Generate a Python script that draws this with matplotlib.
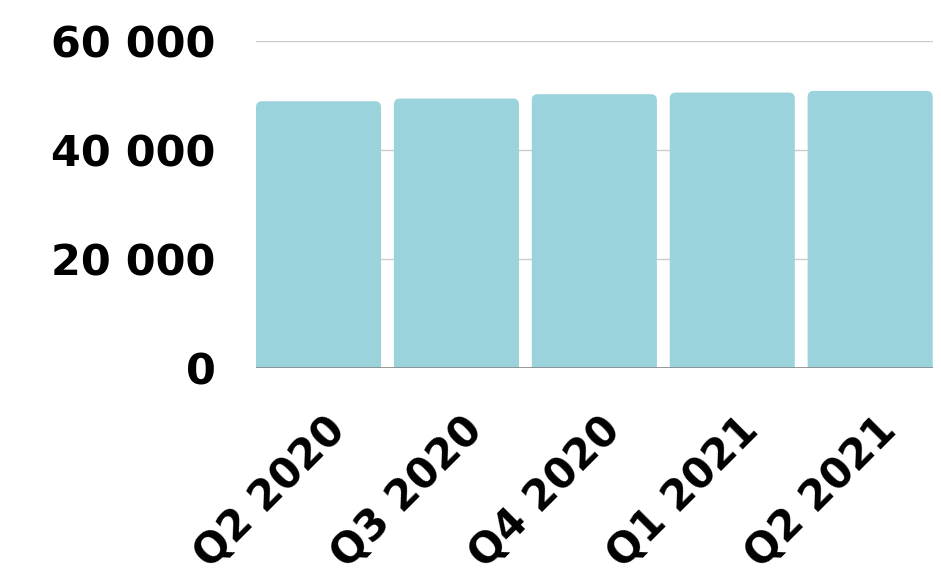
import matplotlib
matplotlib.use("Agg")
import matplotlib.pyplot as plt
from matplotlib.patches import FancyBboxPatch
from matplotlib.ticker import FuncFormatter
import matplotlib.transforms as mtransforms

categories = ["Q2 2020", "Q3 2020", "Q4 2020", "Q1 2021", "Q2 2021"]
values = [49000, 49500, 50300, 50600, 50900]
yticks = [0, 20000, 40000, 60000]

bar_color = "#9bd3dc"
W, H, DPI = 941, 583, 100
fig = plt.figure(figsize=(W / DPI, H / DPI), dpi=DPI)
ax = fig.add_axes([256 / W, 1 - 368.3 / H, (932.7 - 256) / W, (368.3 - 41.3) / H])

bw = 0.907
x = list(range(len(categories)))
bars = ax.bar(x, values, width=bw, color=bar_color, zorder=2)
ax.set_xlim(-bw / 2, len(categories) - 1 + bw / 2)
ax.set_ylim(0, 60000)

# rounded top corners (bottom corners pushed below the axis and clipped)
fig.canvas.draw()
p0 = ax.transData.transform((0, 0))
p1 = ax.transData.transform((1, 1))
px_per_x = p1[0] - p0[0]
px_per_y = p1[1] - p0[1]
r_px = 6.0
rx = r_px / px_per_x
ry = r_px / px_per_y
aspect = px_per_x / px_per_y
for b in bars:
    b.set_visible(False)
    bx, by, bwid, bh = b.get_x(), b.get_y(), b.get_width(), b.get_height()
    fb = FancyBboxPatch((bx, by - 2 * ry), bwid, bh + 2 * ry,
                        boxstyle=f"round,pad=0,rounding_size={rx}",
                        mutation_aspect=aspect, facecolor=bar_color,
                        edgecolor="none", zorder=2)
    ax.add_patch(fb)

ax.set_yticks(yticks)
ax.yaxis.set_major_formatter(FuncFormatter(lambda v, p: f"{int(v):,}".replace(",", " ")))
ax.grid(axis="y", color="#cccccc", linewidth=1, zorder=0)
ax.axhline(0, color="#888888", linewidth=1.2, zorder=3)
for s in ax.spines.values():
    s.set_visible(False)
ax.tick_params(axis="both", length=0)
ax.tick_params(axis="y", pad=29)

font = dict(family="DejaVu Sans", weight="bold", size=31)
for lab in ax.get_yticklabels():
    lab.set(**font)

xfont = dict(family="DejaVu Sans", weight="bold", size=30)
ax.set_xticks(x)
ax.set_xticklabels(categories, rotation=45, ha="right", va="center",
                   rotation_mode="anchor", **xfont)
offset = mtransforms.ScaledTranslation(20 / DPI, -50 / DPI, fig.dpi_scale_trans)
for lab in ax.get_xticklabels():
    lab.set_transform(lab.get_transform() + offset)

fig.savefig("out.png", dpi=DPI)
